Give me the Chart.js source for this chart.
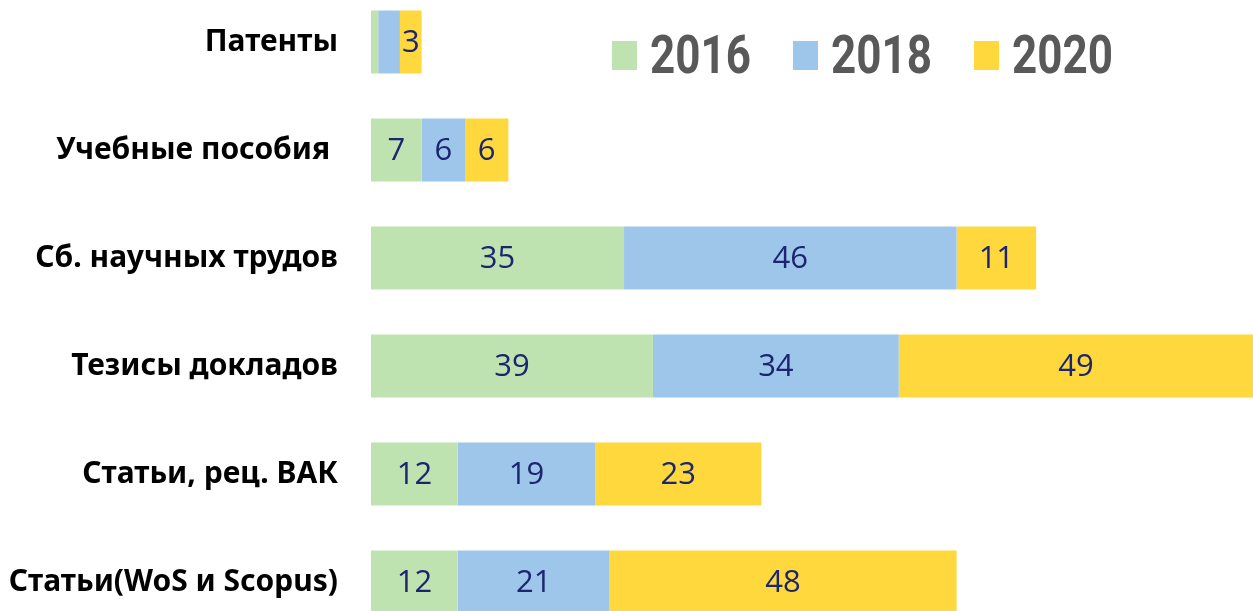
<!DOCTYPE html>
<html><head><meta charset="utf-8">
<script src="https://cdn.jsdelivr.net/npm/chart.js@4/dist/chart.umd.min.js"></script>
<style>
html,body{margin:0;padding:0;background:#fff;overflow:hidden;width:1253px;height:611px;}
#wrap{position:absolute;left:0;top:-12px;width:1253px;height:648px;}
#legend{position:absolute;left:612px;top:33px;display:flex;align-items:center;height:44px;}
.item{display:flex;align-items:center;margin-right:42px;}
.sw{width:25px;height:29px;margin-right:13px;}
.tx{font-family:Roboto,"Noto Sans",sans-serif;font-weight:bold;font-size:44px;line-height:1;color:#595959;display:inline-block;transform:scaleY(1.2);}
</style></head><body>
<div id="wrap"><canvas id="c" width="1253" height="648"></canvas></div>
<div id="legend"></div>
<script>
const categories = ["Патенты","Учебные пособия ","Сб. научных трудов","Тезисы докладов","Статьи, рец. ВАК","Статьи(WoS и Scopus)"];
const seriesNames = ["2016","2018","2020"];
const values2016 = [1,7,35,39,12,12];
const values2018 = [3,6,46,34,19,21];
const values2020 = [3,6,11,49,23,48];
const xMax = 122;
const hiddenLabels = [["2016","Патенты"],["2018","Патенты"]];

const colors = ["#bfe3b0","#9ec5ea","#ffd83d"];
const seriesValues = [values2016, values2018, values2020];

const labelPlugin = {
  id:'segLabels',
  afterDatasetsDraw(chart){
    const ctx = chart.ctx;
    ctx.save();
    ctx.font = '31px "Open Sans", "Noto Sans", sans-serif';
    ctx.fillStyle = '#1c2670';
    ctx.textAlign = 'center';
    ctx.textBaseline = 'middle';
    chart.data.datasets.forEach((ds, di) => {
      const meta = chart.getDatasetMeta(di);
      meta.data.forEach((bar, i) => {
        const cat = chart.data.labels[i];
        if (hiddenLabels.some(h => h[0] === ds.label && h[1] === cat)) return;
        const v = ds.data[i];
        const cx = (bar.x + bar.base) / 2;
        ctx.fillText(String(v), cx, bar.y + 1);
      });
    });
    ctx.restore();
  }
};

new Chart(document.getElementById('c'), {
  type:'bar',
  data:{
    labels:categories,
    datasets: seriesNames.map((n, k) => ({
      label:n, data:seriesValues[k], backgroundColor:colors[k],
      borderWidth:0, barPercentage:0.583, categoryPercentage:1
    }))
  },
  options:{
    indexAxis:'y',
    responsive:false,
    animation:false,
    layout:{padding:0},
    plugins:{legend:{display:false},tooltip:{enabled:false}},
    scales:{
      x:{stacked:true,min:0,max:xMax,display:false},
      y:{stacked:true,
         grid:{display:false,drawTicks:false},
         border:{display:false},
         ticks:{padding:33,color:'#000',font:{family:'"Noto Sans", sans-serif',weight:'bold',size:30}},
         afterFit(s){s.width = 371; s.paddingTop = 0; s.paddingBottom = 0;}
      }
    }
  },
  plugins:[labelPlugin]
});

const lg = document.getElementById('legend');
seriesNames.forEach((n,k)=>{
  const it = document.createElement('div'); it.className='item';
  const sw = document.createElement('div'); sw.className='sw'; sw.style.background=colors[k];
  const tx = document.createElement('span'); tx.className='tx'; tx.textContent=n;
  it.appendChild(sw); it.appendChild(tx); lg.appendChild(it);
});
</script>
</body></html>
